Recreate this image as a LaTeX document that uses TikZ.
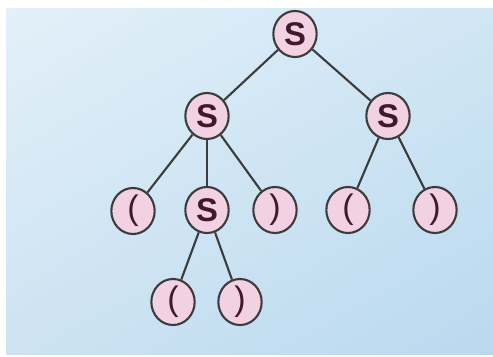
\documentclass[tikz,border=0pt]{standalone}
\usepackage{fontspec}
\setsansfont{Liberation Sans}
\usetikzlibrary{positioning,shapes.geometric,shadings}
\definecolor{bgA}{HTML}{E3F0F9}
\definecolor{bgB}{HTML}{D0E6F4}
\definecolor{bgC}{HTML}{CDE3F2}
\definecolor{bgD}{HTML}{BAD9EF}
\definecolor{nodefill}{HTML}{F2D2E2}
\definecolor{nodeline}{HTML}{3C3C3C}
\definecolor{symcol}{HTML}{42182F}

\begin{document}
\begin{tikzpicture}[
  x=0.03cm, y=-0.03cm,
  vert/.style={ellipse, draw=nodeline, line width=1.8pt, fill=nodefill, text=symcol, inner sep=0pt, minimum width=1.3cm, minimum height=1.38cm},
  nt/.style={vert, font=\sffamily\bfseries\fontsize{28}{28}\selectfont},
  tm/.style={vert, font=\sffamily\fontsize{29}{29}\selectfont},
  edge/.style={draw=nodeline, line width=1.8pt}
]
\useasboundingbox (0,0) rectangle (493,356);
\fill[white] (0,0) rectangle (493,356);
\shade[upper left=bgA, upper right=bgB, lower left=bgC, lower right=bgD] (6,8) rectangle (493,354);

% parse tree for ( ( ) ) ( )
\node[nt] (root) at (295,34) {S};
\node[nt] (sL) at (207,116) {S};
\node[nt] (sR) at (388,116) {S};
\node[tm] (lp1) at (133,211) {(};
\node[nt] (sM) at (207,210) {S};
\node[tm] (rp1) at (275,210) {)};
\node[tm] (lp2) at (348,210) {(};
\node[tm] (rp2) at (435,210) {)};
\node[tm] (lp3) at (173,302) {(};
\node[tm] (rp3) at (240,302) {)};

\draw[edge] (root) -- (sL);
\draw[edge] (root) -- (sR);
\draw[edge] (sL) -- (lp1);
\draw[edge] (sL) -- (sM);
\draw[edge] (sL) -- (rp1);
\draw[edge] (sR) -- (lp2);
\draw[edge] (sR) -- (rp2);
\draw[edge] (sM) -- (lp3);
\draw[edge] (sM) -- (rp3);
\end{tikzpicture}
\end{document}
